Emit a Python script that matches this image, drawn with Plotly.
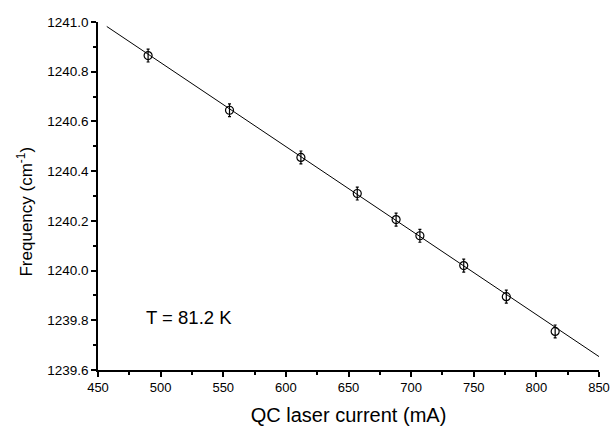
import plotly.graph_objects as go

current_mA = [490, 555, 612, 657, 688, 707, 742, 776, 815]
frequency = [1240.865, 1240.645, 1240.455, 1240.31, 1240.205, 1240.14, 1240.02, 1239.895, 1239.755]
freq_err = [0.026] * 9
fit_x = [457, 850]
fit_y = [1240.982, 1239.654]
x_ticks = [450, 500, 550, 600, 650, 700, 750, 800, 850]
y_ticks = [1239.6, 1239.8, 1240.0, 1240.2, 1240.4, 1240.6, 1240.8, 1241.0]

font_family = "Liberation Sans, Arial, sans-serif"

fig = go.Figure()
fig.add_trace(go.Scatter(x=fit_x, y=fit_y, mode="lines",
                         line=dict(color="black", width=1), showlegend=False))
fig.add_trace(go.Scatter(x=current_mA, y=frequency, mode="markers",
                         marker=dict(symbol="circle-open", size=8, color="black",
                                     line=dict(width=1.2, color="black")),
                         error_y=dict(type="data", array=freq_err, color="black",
                                      thickness=1.2, width=1.5),
                         showlegend=False))

fig.add_annotation(x=487, y=1239.81, xref="x", yref="y", text="T = 81.2 K",
                   showarrow=False, xanchor="left", yanchor="middle",
                   font=dict(size=18.5, color="black", family=font_family))

fig.add_annotation(x=-0.146, y=0.455, xref="paper", yref="paper",
                   text="Frequency (cm<sup>-1</sup>)", textangle=-90,
                   showarrow=False, xanchor="center", yanchor="middle",
                   font=dict(size=17, color="black", family=font_family))

fig.update_xaxes(range=[450, 850], tickvals=x_ticks,
                 ticktext=[str(v) for v in x_ticks], automargin=False,
                 showline=True, linecolor="black", linewidth=1.5,
                 ticks="outside", ticklen=5, tickwidth=1.5, tickcolor="black",
                 minor=dict(ticks="outside", ticklen=3, tickwidth=1.5, dtick=25,
                            tick0=450, tickcolor="black"),
                 showgrid=False, zeroline=False,
                 tickfont=dict(size=13, color="black", family=font_family),
                 title=dict(text="QC laser current (mA)", standoff=14,
                            font=dict(size=20, color="black", family=font_family)))
fig.update_yaxes(range=[1239.6, 1241.0], tickvals=y_ticks,
                 ticktext=["%.1f" % v for v in y_ticks], automargin=False,
                 showline=True, linecolor="black", linewidth=1.5,
                 ticks="outside", ticklen=5, tickwidth=1.5, tickcolor="black",
                 minor=dict(ticks="outside", ticklen=3, tickwidth=1.5, dtick=0.1,
                            tick0=1239.6, tickcolor="black"),
                 showgrid=False, zeroline=False,
                 tickfont=dict(size=13.5, color="black", family=font_family))

fig.update_layout(width=611, height=426,
                  margin=dict(l=98, r=12, t=22, b=56),
                  plot_bgcolor="white", paper_bgcolor="white")

fig.write_html("out.html", config={"displayModeBar": False},
               post_script="document.body.style.margin='0px';"
                           "document.body.style.overflow='hidden';")
